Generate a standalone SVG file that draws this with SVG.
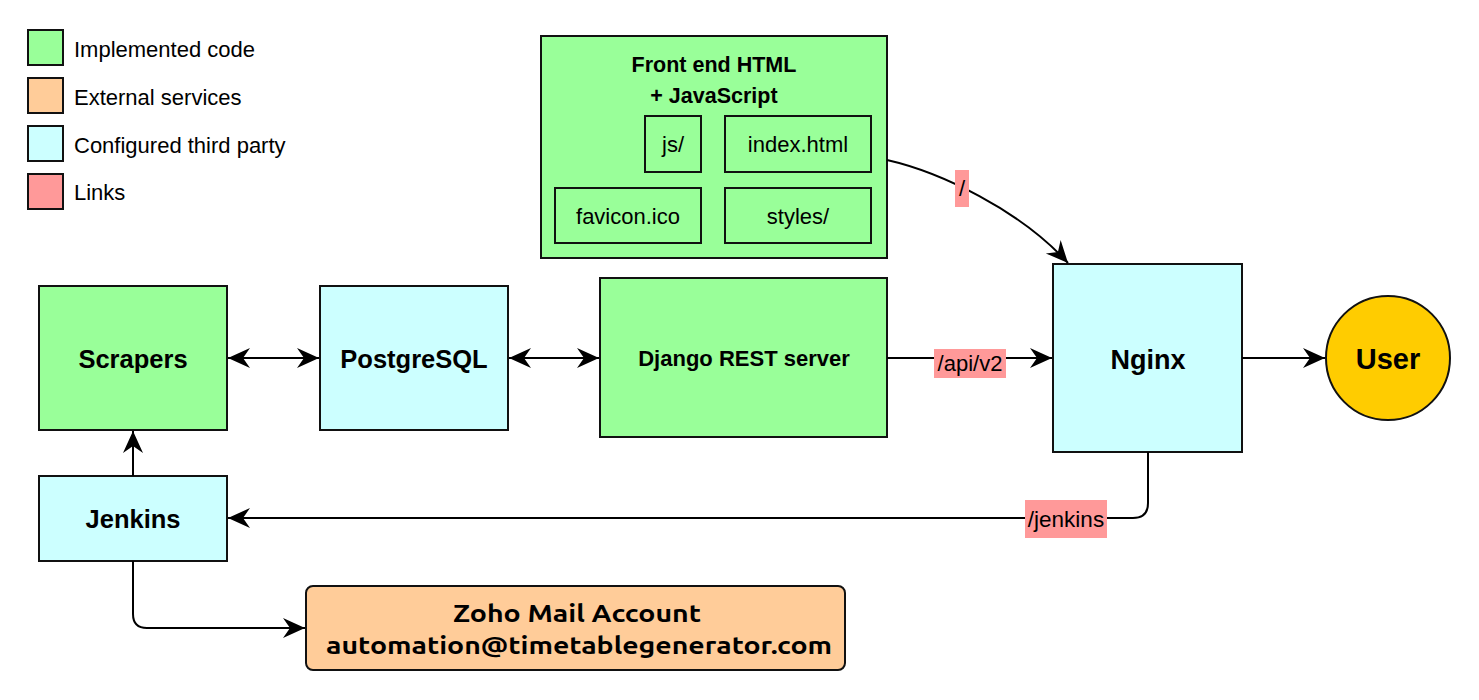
<svg xmlns="http://www.w3.org/2000/svg" width="1479" height="700" viewBox="0 0 1479 700">
<defs>
<style>
.box{stroke:#111;stroke-width:2}
.code{fill:#99ff99}
.ext{fill:#ffcc99}
.third{fill:#ccffff}
.link{fill:#ff9999}
.t{font-family:"Liberation Sans",Arial,sans-serif;fill:#000}
.b{font-weight:bold}
.conn{fill:none;stroke:#000;stroke-width:2}
</style>
<marker id="ah" markerUnits="userSpaceOnUse" markerWidth="26" markerHeight="24" viewBox="-24 -12 26 24" refX="0" refY="0" orient="auto-start-reverse">
<path d="M0,0 L-22,-10 L-15,0 L-22,10 Z" fill="#000"/>
</marker>
</defs>
<rect width="1479" height="700" fill="#fff"/>

<g id="legend">
<rect class="box code" x="28" y="30" width="35" height="35"/>
<text class="t" x="74" y="57" font-size="22">Implemented code</text>
<rect class="box ext" x="28" y="78" width="35" height="35"/>
<text class="t" x="74" y="105" font-size="22">External services</text>
<rect class="box third" x="28" y="126" width="35" height="35"/>
<text class="t" x="74" y="153" font-size="22">Configured third party</text>
<rect class="box link" x="28" y="174" width="35" height="35"/>
<text class="t" x="74" y="200" font-size="22">Links</text>
</g>

<g id="frontend">
<rect class="box code" x="541" y="36" width="346" height="222"/>
<text class="t b" x="714" y="72" font-size="21.5" text-anchor="middle">Front end HTML</text>
<text class="t b" x="714" y="103" font-size="21.5" text-anchor="middle">+ JavaScript</text>
<rect class="box code" x="645" y="116" width="56" height="56"/>
<text class="t" x="673" y="152" font-size="22" text-anchor="middle">js/</text>
<rect class="box code" x="725" y="116" width="146" height="56"/>
<text class="t" x="798" y="152" font-size="22" text-anchor="middle">index.html</text>
<rect class="box code" x="555" y="188" width="146" height="55"/>
<text class="t" x="628" y="224" font-size="22" text-anchor="middle">favicon.ico</text>
<rect class="box code" x="725" y="188" width="146" height="55"/>
<text class="t" x="798" y="224" font-size="22" text-anchor="middle">styles/</text>
</g>

<g id="scrapers">
<rect class="box code" x="39" y="286" width="188" height="144"/>
<text class="t b" x="133" y="368" font-size="25.5" text-anchor="middle">Scrapers</text>
</g>
<g id="postgresql">
<rect class="box third" x="320" y="286" width="188" height="144"/>
<text class="t b" x="414" y="368" font-size="25.5" text-anchor="middle">PostgreSQL</text>
</g>
<g id="django">
<rect class="box code" x="600" y="278" width="287" height="159"/>
<text class="t b" x="744" y="366" font-size="22" text-anchor="middle">Django REST server</text>
</g>
<g id="nginx">
<rect class="box third" x="1053" y="264" width="189" height="188"/>
<text class="t b" x="1148" y="369" font-size="27" text-anchor="middle">Nginx</text>
</g>
<g id="user">
<circle cx="1388" cy="358" r="62" fill="#ffcc00" stroke="#111" stroke-width="2"/>
<text class="t b" x="1388" y="369" font-size="29" text-anchor="middle">User</text>
</g>
<g id="jenkins">
<rect class="box third" x="39" y="476" width="188" height="85"/>
<text class="t b" x="133" y="528" font-size="25.5" text-anchor="middle">Jenkins</text>
</g>
<g id="zoho">
<rect class="box ext" x="306" y="586" width="539" height="84" rx="7" ry="7"/>
<text x="577" y="622" font-family="Ubuntu,'Open Sans',sans-serif" font-weight="bold" font-size="24" text-anchor="middle" textLength="248" lengthAdjust="spacingAndGlyphs">Zoho Mail Account</text>
<text x="579" y="654" font-family="Ubuntu,'Open Sans',sans-serif" font-weight="bold" font-size="24" text-anchor="middle" textLength="506" lengthAdjust="spacingAndGlyphs">automation@timetablegenerator.com</text>
</g>

<g id="connectors">
<path class="conn" d="M228,358 L319,358" marker-start="url(#ah)" marker-end="url(#ah)"/>
<path class="conn" d="M509,358 L599,358" marker-start="url(#ah)" marker-end="url(#ah)"/>
<path class="conn" d="M887,358 L1052,358" marker-end="url(#ah)"/>
<path class="conn" d="M1242,358 L1325,358" marker-end="url(#ah)"/>
<path class="conn" d="M887,160 C940,172 1020,210 1068,263" marker-end="url(#ah)"/>
<path class="conn" d="M1148,452 L1148,503 Q1148,518 1133,518 L228,518" marker-end="url(#ah)"/>
<path class="conn" d="M133,476 L133,431" marker-end="url(#ah)"/>
<path class="conn" d="M133,561 L133,614 Q133,628 147,628 L305,628" marker-end="url(#ah)"/>
<g id="labels">
<rect class="link" x="934" y="349" width="72" height="29"/>
<text class="t" x="970" y="371" font-size="22" text-anchor="middle">/api/v2</text>
<rect class="link" x="955" y="170" width="14" height="37"/>
<text class="t" x="962" y="196" font-size="22" text-anchor="middle">/</text>
<rect class="link" x="1025" y="500" width="82" height="38"/>
<text class="t" x="1066" y="527" font-size="22.5" text-anchor="middle">/jenkins</text>
</g>
</g>
</svg>
